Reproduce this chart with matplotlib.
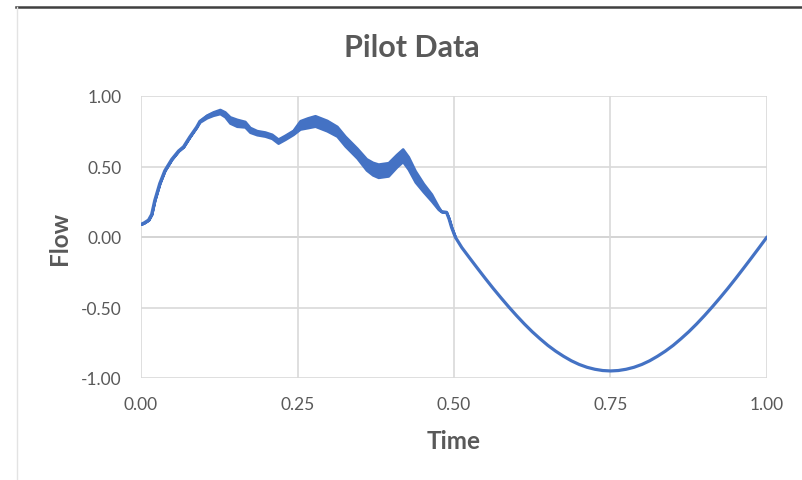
import numpy as np
import matplotlib.pyplot as plt
from matplotlib.lines import Line2D

# Pilot flow trace, first half (inflow) read at uneven time steps
time_in = [0.000, 0.005, 0.012, 0.017, 0.022, 0.030, 0.038, 0.049, 0.060, 0.068,
           0.078, 0.089, 0.094, 0.105, 0.115, 0.126, 0.134, 0.142, 0.153, 0.166,
           0.174, 0.185, 0.198, 0.209, 0.219, 0.230, 0.243, 0.254, 0.266, 0.278,
           0.297, 0.313, 0.326, 0.345, 0.360, 0.370, 0.379, 0.395, 0.408, 0.418,
           0.427, 0.438, 0.451, 0.464, 0.475, 0.480, 0.488, 0.492, 0.496, 0.502]
flow_in = [0.09, 0.10, 0.12, 0.16, 0.26, 0.38, 0.47, 0.55, 0.61, 0.64,
           0.71, 0.78, 0.82, 0.855, 0.875, 0.89, 0.87, 0.83, 0.81, 0.80,
           0.76, 0.74, 0.73, 0.714, 0.68, 0.707, 0.742, 0.795, 0.81, 0.823,
           0.79, 0.75, 0.68, 0.595, 0.515, 0.485, 0.47, 0.48, 0.54, 0.58,
           0.525, 0.43, 0.35, 0.28, 0.205, 0.18, 0.175, 0.13, 0.07, 0.0]
# peak-to-peak size of the fast ripple riding on the inflow
ripple_in = [0, 0, 0, 0, 0, 0, 0, 0, 0, 0,
             0, 0, 0.01, 0.02, 0.025, 0.03, 0.035, 0.045, 0.05, 0.04,
             0.035, 0.03, 0.03, 0.03, 0.03, 0.03, 0.03, 0.06, 0.07, 0.075,
             0.075, 0.07, 0.07, 0.07, 0.08, 0.09, 0.095, 0.095, 0.09, 0.09,
             0.09, 0.08, 0.06, 0.05, 0.02, 0, 0, 0, 0, 0]

# second half (outflow), smooth
time_out = [0.5125, 0.5250, 0.5375, 0.5500, 0.5625, 0.5750, 0.5875, 0.6000,
            0.6125, 0.6250, 0.6375, 0.6500, 0.6625, 0.6750, 0.6875, 0.7000,
            0.7125, 0.7250, 0.7375, 0.7500, 0.7625, 0.7750, 0.7875, 0.8000,
            0.8125, 0.8250, 0.8375, 0.8500, 0.8625, 0.8750, 0.8875, 0.9000,
            0.9125, 0.9250, 0.9375, 0.9500, 0.9625, 0.9750, 0.9875, 1.0000]
flow_out = [-0.075, -0.149, -0.222, -0.294, -0.364, -0.431, -0.496, -0.558,
            -0.617, -0.672, -0.722, -0.769, -0.810, -0.846, -0.878, -0.904,
            -0.924, -0.938, -0.947, -0.950, -0.947, -0.938, -0.924, -0.904,
            -0.878, -0.846, -0.810, -0.769, -0.722, -0.672, -0.617, -0.558,
            -0.496, -0.431, -0.364, -0.294, -0.222, -0.149, -0.075, 0.0]

x_ticks = [0.00, 0.25, 0.50, 0.75, 1.00]
y_ticks = [-1.00, -0.50, 0.00, 0.50, 1.00]

blue = "#4472C4"
grey_text = "#595959"
plt.rcParams["font.family"] = ["Lato", "DejaVu Sans"]

fig = plt.figure(figsize=(8.03, 4.81), dpi=100)
ax = fig.add_axes([141 / 803, 1 - 379 / 481, 626 / 803, 282 / 481])

t_in = np.array(time_in)
f_in = np.array(flow_in)
r_in = np.array(ripple_in)
ax.fill_between(t_in, f_in - r_in / 2, f_in + r_in / 2, color=blue,
                edgecolor=blue, linewidth=1.8, zorder=3)
ax.plot(time_in + time_out, flow_in + flow_out, color=blue, lw=2.3,
        solid_capstyle="round", solid_joinstyle="round", zorder=4)

ax.set_xlim(0, 1)
ax.set_ylim(-1, 1)
ax.set_xticks(x_ticks)
ax.set_yticks(y_ticks)
ax.set_xticklabels([f"{v:.2f}" for v in x_ticks])
ax.set_yticklabels([f"{v:.2f}" for v in y_ticks])
ax.tick_params(length=0, labelsize=12.5, colors=grey_text)
ax.tick_params(axis="x", pad=13)
ax.tick_params(axis="y", pad=14)
ax.grid(True, color="#D9D9D9", lw=1.2, zorder=0)
ax.axhline(0, color="#BFBFBF", lw=1.3, zorder=1)
for s in ax.spines.values():
    s.set_visible(False)

ax.set_xlabel("Time", fontsize=17.5, fontweight="bold", color=grey_text, labelpad=12)
ax.set_ylabel("Flow", fontsize=17.5, fontweight="bold", color=grey_text, labelpad=7)
fig.text(412 / 803, 1 - 48 / 481, "Pilot Data", ha="center", va="center",
         fontsize=22, fontweight="bold", color=grey_text)

# chart frame edges
fig.add_artist(Line2D([16 / 803, 1], [1 - 8 / 481] * 2, color="#404040", lw=1.8))
fig.add_artist(Line2D([17 / 803] * 2, [0, 1 - 8 / 481], color="#E3E3E3", lw=1.0))

fig.savefig("out.png", dpi=100)
